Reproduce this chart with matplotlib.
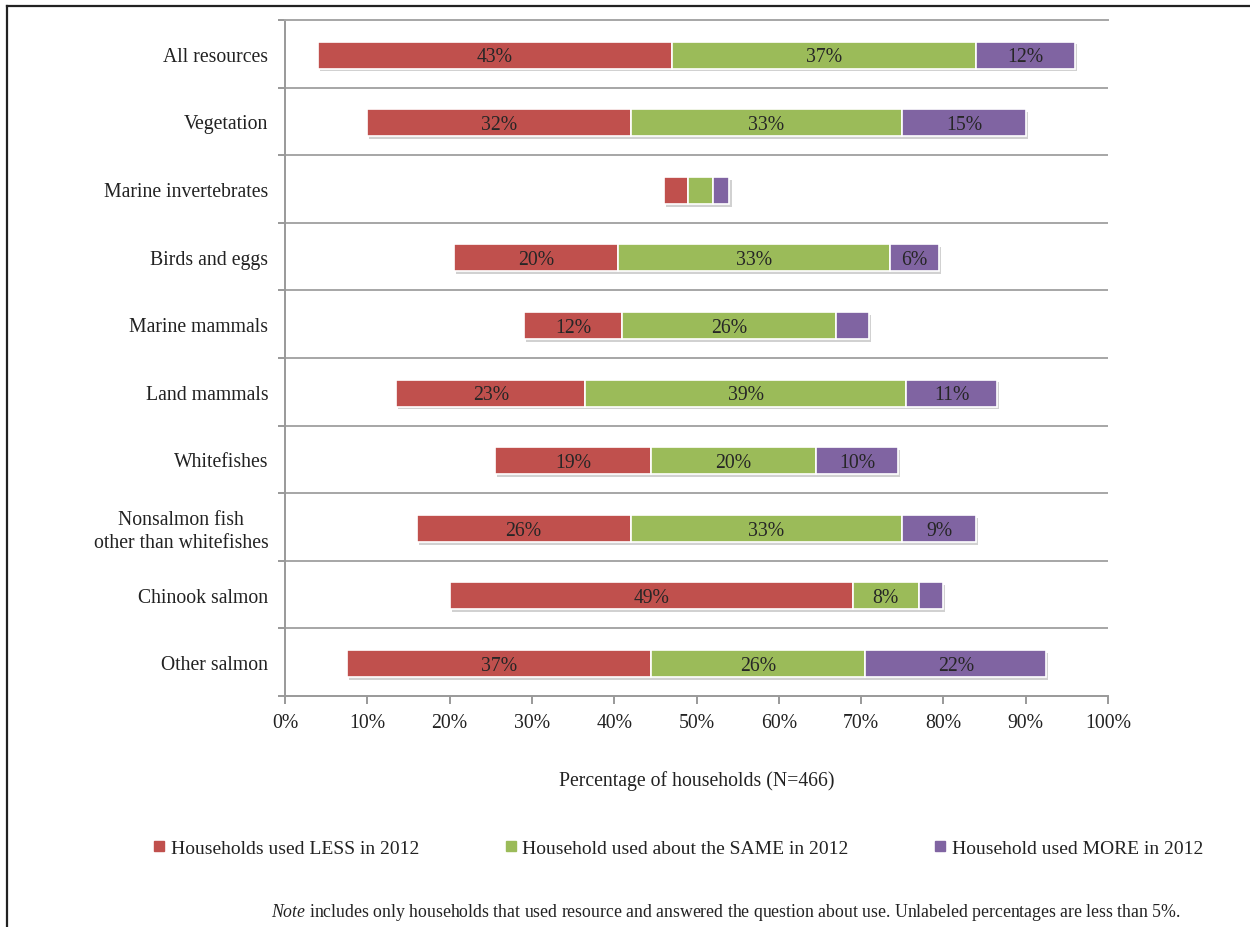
import matplotlib
matplotlib.use("Agg")
import matplotlib.pyplot as plt
import matplotlib.patheffects as pe
from matplotlib.lines import Line2D
import numpy as np

plt.rcParams['font.family'] = ['Liberation Serif', 'DejaVu Serif']
plt.rcParams['mathtext.fontset'] = 'custom'
plt.rcParams['mathtext.rm'] = 'Liberation Serif'
plt.rcParams['mathtext.it'] = 'Liberation Serif:italic'

categories = ["All resources", "Vegetation", "Marine invertebrates", "Birds and eggs",
              "Marine mammals", "Land mammals", "Whitefishes",
              "Nonsalmon fish\nother than whitefishes", "Chinook salmon", "Other salmon"]
used_less = [43, 32, 3, 20, 12, 23, 19, 26, 49, 37]
used_same = [37, 33, 3, 33, 26, 39, 20, 33, 8, 26]
used_more = [12, 15, 2, 6, 4, 11, 10, 9, 3, 22]
series_names = ["Households used LESS in 2012",
                "Household used about the SAME in 2012",
                "Household used MORE in 2012"]
colors = ["#C0504D", "#9BBB59", "#8064A2"]
xticks = [0, 10, 20, 30, 40, 50, 60, 70, 80, 90, 100]

FS = 14.2

fig = plt.figure(figsize=(12.5, 9.28), dpi=100)
ax = fig.add_axes([285 / 1250, 1 - 697 / 928, (1108 - 285) / 1250, (697 - 21) / 928])

y = np.arange(len(categories))
less = np.array(used_less, float)
same = np.array(used_same, float)
more = np.array(used_more, float)
# centre each bar on the 50% line
offset = (100 - (less + same + more)) / 2

shadow = [pe.SimplePatchShadow(offset=(1.5, -2), shadow_rgbFace="#999999", alpha=0.45), pe.Normal()]
left = offset.copy()
for vals, col, name in zip([less, same, more], colors, series_names):
    bars = ax.barh(y + 0.02, vals, left=left, height=0.4, color=col, edgecolor="white",
                   linewidth=1.2, label=name, zorder=3)
    for b in bars:
        b.set_path_effects(shadow)
    for yi, l, v in zip(y, left, vals):
        if v >= 5:
            ax.text(l + v / 2, yi + 0.01, f"{v:.0f}%", ha="center", va="center_baseline",
                    fontsize=FS, color="#262626", zorder=4)
    left = left + vals

ax.set_xlim(0, 100)
ax.set_ylim(len(categories) - 0.5, -0.5)

ax.set_xticks(xticks)
ax.set_xticklabels([f"{t}%" for t in xticks], fontsize=FS, color="#222222")
ax.tick_params(axis="x", direction="out", length=6, color="#888888", width=1.2, pad=6)

ax.set_yticks(y)
ax.set_yticklabels(categories, fontsize=FS, color="#222222", linespacing=1.25)
for lab in ax.get_yticklabels():
    lab.set_multialignment("center")
ax.tick_params(axis="y", which="major", length=0, pad=12)
ax.set_yticks(np.arange(-0.5, len(categories), 1.0), minor=True)
ax.tick_params(axis="y", which="minor", direction="out", length=5, color="#888888", width=1.2)

for b in np.arange(0.5, len(categories) - 1, 1.0):
    ax.axhline(b, color="#A6A6A6", lw=1.4, zorder=1)

for s in ["left", "bottom", "top"]:
    ax.spines[s].set_color("#999999")
    ax.spines[s].set_linewidth(1.4)
ax.spines["top"].set_color("#A6A6A6")
ax.spines["right"].set_visible(False)

ax.set_xlabel("Percentage of households (N=466)", fontsize=FS, color="#222222", labelpad=28)

handles = [Line2D([], [], marker="s", linestyle="none", markersize=7, color=c) for c in colors]
fig.legend(handles, series_names, loc="center", bbox_to_anchor=(0.5425, 1 - 849 / 928),
           ncol=3, frameon=False, fontsize=14, handlelength=0.6, handletextpad=0.3,
           columnspacing=4.4, labelcolor="#222222")

fig.text(271 / 1250, 1 - 913 / 928,
         r"$\it{Note}$ includes only households that used resource and answered the question about use. Unlabeled percentages are less than 5%.",
         fontsize=12.8, color="#222222", va="center", ha="left")

# figure border on the top and left edges
fig.add_artist(Line2D([7 / 1250, 1], [1 - 7 / 928, 1 - 7 / 928], transform=fig.transFigure, color="#222222", lw=1.6))
fig.add_artist(Line2D([7 / 1250, 7 / 1250], [0, 1 - 7 / 928], transform=fig.transFigure, color="#222222", lw=1.6))

fig.savefig("out.png", dpi=100, facecolor="white")
